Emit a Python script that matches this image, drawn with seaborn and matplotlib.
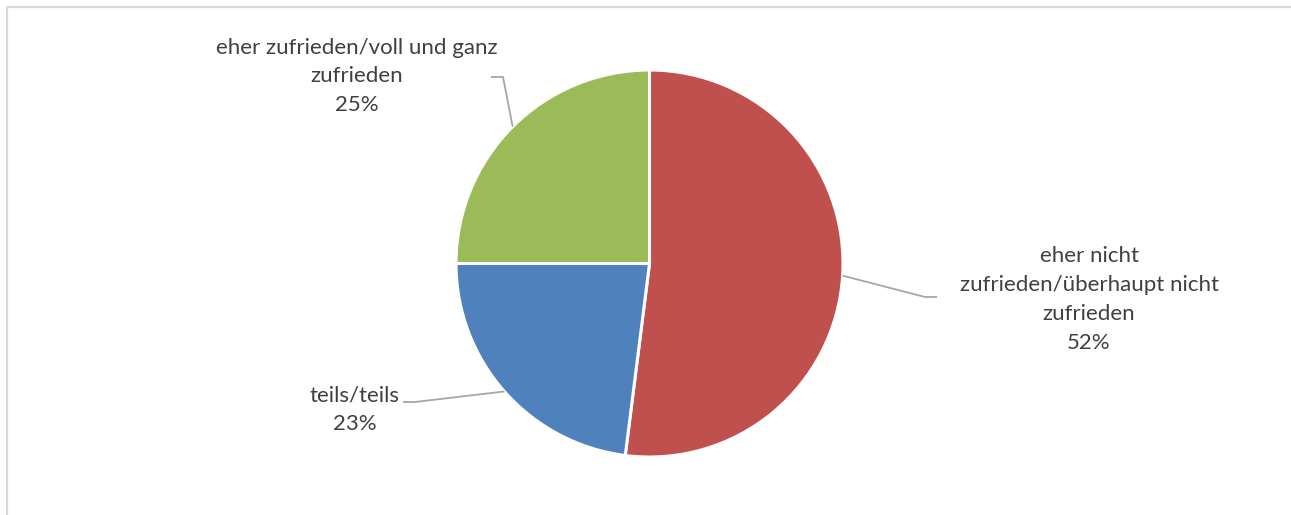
import numpy as np
import matplotlib
matplotlib.use("Agg")
import matplotlib.pyplot as plt
from matplotlib.patches import Rectangle
import seaborn as sns

# Satisfaction shares
categories = [
    "eher nicht\nzufrieden/überhaupt nicht\nzufrieden",
    "teils/teils",
    "eher zufrieden/voll und ganz\nzufrieden",
]
shares = [52, 23, 25]
percent_labels = ["52%", "23%", "25%"]

sns.set_theme(style="white")
plt.rcParams["font.family"] = ["Lato", "DejaVu Sans"]

colors = ["#C0504D", "#4F81BD", "#9BBB59"]
text_color = "#404040"
leader_color = "#A6A6A6"

W, H = 1291, 515
fig = plt.figure(figsize=(W / 100, H / 100), dpi=100)
ax = fig.add_axes([0, 0, 1, 1])

cx, cy, r = 649.5, 263.5, 193.5

# y axis points down, so counterclockwise in data space is clockwise on screen
wedges, _ = ax.pie(
    shares, colors=colors, startangle=-90, counterclock=True,
    center=(cx, cy), radius=r, frame=True,
    wedgeprops=dict(edgecolor="white", linewidth=2.2),
)
ax.set_xlim(0, W)
ax.set_ylim(H, 0)
ax.set_aspect("equal")
ax.axis("off")

# Outer chart frame (partly clipped at right and bottom)
ax.add_patch(Rectangle((7, 7), W + 20, H + 20, fill=False,
                       edgecolor="#D9D9D9", linewidth=1.6, clip_on=True))

# label layout: (text centre x, text centre y, elbow point, end point)
layout = [
    (1089, 299.5, (925, 297), (937, 297)),
    (355, 410, (415, 402), (403, 402)),
    (357, 76.5, (503, 77), (491, 77)),
]

for w, cat, pct, (tx, ty, elbow, end) in zip(wedges, categories, percent_labels, layout):
    mid = np.deg2rad((w.theta1 + w.theta2) / 2)
    px = cx + r * np.cos(mid)
    py = cy + r * np.sin(mid)
    ax.plot([px, elbow[0], end[0]], [py, elbow[1], end[1]],
            color=leader_color, linewidth=1.3, solid_capstyle="butt")
    ax.text(tx, ty, f"{cat}\n{pct}", ha="center", va="center",
            fontsize=16, color=text_color, linespacing=1.55)

fig.savefig("out.png", dpi=100, facecolor="white")
